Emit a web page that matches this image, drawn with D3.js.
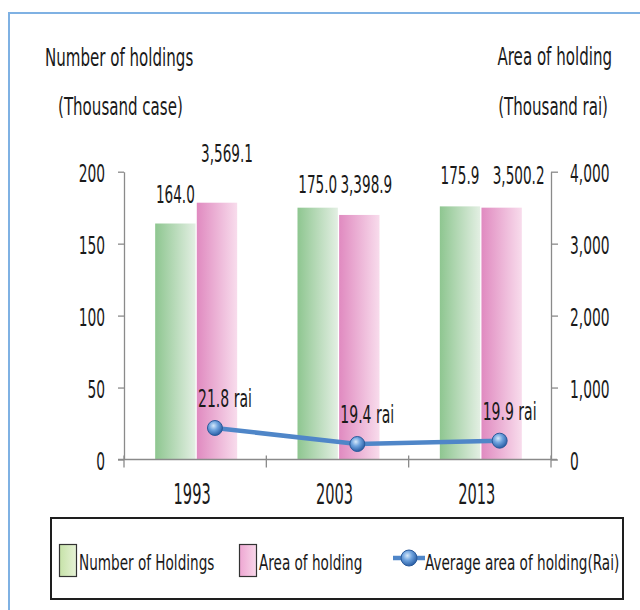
<!DOCTYPE html>
<html>
<head>
<meta charset="utf-8">
<script src="https://cdn.jsdelivr.net/npm/d3@7/dist/d3.min.js"></script>
<style>
  html, body { margin: 0; padding: 0; background: #fff; }
  text { font-family: 'DejaVu Sans Condensed', 'DejaVu Sans', sans-serif; fill: #1a1a1a; }
</style>
</head>
<body>
<svg id="chart" width="640" height="610"></svg>
<script>
// ---- data ----
const categories = ["1993", "2003", "2013"];
const holdings = [164.0, 175.0, 175.9];          // thousand cases (left axis)
const areaHolding = [3569.1, 3398.9, 3500.2];     // thousand rai (right axis)
const avgArea = [21.8, 19.4, 19.9];               // rai (line)
const leftTicks = [0, 50, 100, 150, 200];
const rightTicks = [0, 1000, 2000, 3000, 4000];
const leftTitle = ["Number of holdings", "(Thousand case)"];
const rightTitle = ["Area of holding", "(Thousand rai)"];
const legendLabels = ["Number of Holdings", "Area of holding", "Average area of holding(Rai)"];

// ---- layout ----
const W = 640, H = 610;
const plot = { left: 124, right: 551, top: 171.7, bottom: 459.5 };
const labelNudge = {
  holdings: [[0, -21], [0, -15], [0, -22]],
  area: [[10, -41], [7, -22], [17, -24]]
};

const svg = d3.select("#chart");
const defs = svg.append("defs");

function grad(id, c1, c2) {
  const g = defs.append("linearGradient").attr("id", id)
    .attr("x1", "0%").attr("x2", "100%").attr("y1", "0%").attr("y2", "0%");
  g.append("stop").attr("offset", "0%").attr("stop-color", c1);
  g.append("stop").attr("offset", "100%").attr("stop-color", c2);
}
grad("gGreen", "#8ec690", "#e3efe3");
grad("gPink", "#e08ac0", "#f8dcec");
grad("gGreenLeg", "#c6e2a8", "#e6f2d6");
grad("gPinkLeg", "#eea6d2", "#f8d8ea");
const rg = defs.append("radialGradient").attr("id", "gBall")
  .attr("cx", "40%").attr("cy", "35%").attr("r", "65%");
rg.append("stop").attr("offset", "0%").attr("stop-color", "#d6e8fa");
rg.append("stop").attr("offset", "45%").attr("stop-color", "#6fa3de");
rg.append("stop").attr("offset", "100%").attr("stop-color", "#2a5fa6");

function txt(sel, x, y, s, size, sx, anchor) {
  return sel.append("text")
    .attr("transform", `translate(${x},${y}) scale(${sx},1)`)
    .attr("text-anchor", anchor || "start")
    .style("font-size", size + "px")
    .text(s);
}

// frame
svg.append("path")
  .attr("d", `M9,${H + 5} L9,13 L${W + 5},13`)
  .attr("fill", "none").attr("stroke", "#7fb1e3").attr("stroke-width", 2);

// ---- scales ----
const x = d3.scaleBand().domain(categories).range([plot.left, plot.right]).padding(0);
const yL = d3.scaleLinear().domain([0, 200]).range([plot.bottom, plot.top]);
const yR = d3.scaleLinear().domain([0, 4000]).range([plot.bottom, plot.top]);
const yAvg = d3.scaleLinear().domain([0, 40]).range([573.4, 306.6]);
const inner = d3.scaleBand().domain(["h", "a"]).range([-40, 42]).paddingInner(0.03);
const cx = c => x(c) + x.bandwidth() / 2;

// ---- bars ----
const gBars = svg.append("g");
gBars.selectAll("rect.h").data(categories).join("rect").attr("class", "h")
  .attr("x", (c) => cx(c) + inner("h"))
  .attr("width", inner.bandwidth())
  .attr("y", (c, i) => yL(holdings[i]))
  .attr("height", (c, i) => yL(0) - yL(holdings[i]))
  .attr("fill", "url(#gGreen)");
gBars.selectAll("rect.a").data(categories).join("rect").attr("class", "a")
  .attr("x", (c) => cx(c) + inner("a"))
  .attr("width", inner.bandwidth())
  .attr("y", (c, i) => yR(areaHolding[i]))
  .attr("height", (c, i) => yR(0) - yR(areaHolding[i]))
  .attr("fill", "url(#gPink)");

// ---- axes ----
const axisColor = "#8a8a8a";
const axL = svg.append("g").attr("transform", `translate(${plot.left},0)`)
  .call(d3.axisLeft(yL).tickValues(leftTicks).tickSize(6).tickSizeOuter(0).tickFormat(d3.format("d")));
const axR = svg.append("g").attr("transform", `translate(${plot.right},0)`)
  .call(d3.axisRight(yR).tickValues(rightTicks).tickSize(7).tickSizeOuter(0).tickFormat(d3.format(",")));
[axL, axR].forEach(a => {
  a.attr("font-family", null).attr("font-size", null);
  a.selectAll("path, line").attr("stroke", axisColor).attr("stroke-width", 1.3);
  a.selectAll("text").style("font-size", "24px").attr("fill", "#1a1a1a").attr("dy", "0.42em");
});
axL.selectAll("text").attr("x", null).attr("transform", "translate(-19,0) scale(0.64,1)");
axR.selectAll("text").attr("x", null).attr("transform", "translate(19,0) scale(0.64,1)");

// category axis
const gX = svg.append("g");
gX.append("line").attr("x1", plot.left - 6).attr("x2", plot.right + 6)
  .attr("y1", plot.bottom).attr("y2", plot.bottom)
  .attr("stroke", axisColor).attr("stroke-width", 1.3);
const bounds = categories.map(c => x(c)).concat([x(categories[categories.length - 1]) + x.bandwidth()]);
gX.selectAll("line.t").data(bounds).join("line").attr("class", "t")
  .attr("x1", d => d).attr("x2", d => d)
  .attr("y1", plot.bottom - 4).attr("y2", plot.bottom + 8)
  .attr("stroke", axisColor).attr("stroke-width", 1.3);
categories.forEach(c => txt(gX, cx(c) - 3, 504, c, 28, 0.58, "middle"));

// ---- line ----
const px = c => cx(c) + inner("a") + inner.bandwidth() / 2 - 2;
const line = d3.line().x((d, i) => px(categories[i])).y(d => yAvg(d));
svg.append("path").datum(avgArea).attr("d", line)
  .attr("fill", "none").attr("stroke", "#4f86c8").attr("stroke-width", 4.5);
svg.selectAll("circle.m").data(avgArea).join("circle").attr("class", "m")
  .attr("cx", (d, i) => px(categories[i])).attr("cy", d => yAvg(d)).attr("r", 7.5)
  .attr("fill", "url(#gBall)").attr("stroke", "#2b5a9a").attr("stroke-width", 1);

// ---- labels ----
const gLab = svg.append("g");
categories.forEach((c, i) => {
  const hx = cx(c) + inner("h") + inner.bandwidth() / 2;
  const ax = cx(c) + inner("a") + inner.bandwidth() / 2;
  txt(gLab, hx + labelNudge.holdings[i][0], yL(holdings[i]) + labelNudge.holdings[i][1],
      d3.format(".1f")(holdings[i]), 24, 0.63, "middle");
  txt(gLab, ax + labelNudge.area[i][0], yR(areaHolding[i]) + labelNudge.area[i][1],
      d3.format(",.1f")(areaHolding[i]), 24, 0.63, "middle");
  txt(gLab, px(c) - 17, yAvg(avgArea[i]) - 21, d3.format(".1f")(avgArea[i]) + " rai", 24, 0.65, "start");
});

// ---- titles ----
txt(svg, 45, 66, leftTitle[0], 25, 0.67, "start");
txt(svg, 58, 115, leftTitle[1], 25, 0.67, "start");
txt(svg, 612, 65, rightTitle[0], 25, 0.67, "end");
txt(svg, 608, 115, rightTitle[1], 25, 0.67, "end");

// ---- legend ----
const gLeg = svg.append("g");
gLeg.append("rect").attr("x", 51).attr("y", 518).attr("width", 572).attr("height", 81)
  .attr("fill", "#fff").attr("stroke", "#1e1e1e").attr("stroke-width", 2);
gLeg.append("rect").attr("x", 59.5).attr("y", 544.5).attr("width", 17).attr("height", 32)
  .attr("fill", "url(#gGreenLeg)").attr("stroke", "#333").attr("stroke-width", 1.2);
txt(gLeg, 79, 570, legendLabels[0], 21, 0.72, "start");
gLeg.append("rect").attr("x", 239.5).attr("y", 544.5).attr("width", 17).attr("height", 32)
  .attr("fill", "url(#gPinkLeg)").attr("stroke", "#333").attr("stroke-width", 1.2);
txt(gLeg, 259, 570, legendLabels[1], 21, 0.72, "start");
gLeg.append("line").attr("x1", 393).attr("x2", 425).attr("y1", 558).attr("y2", 558)
  .attr("stroke", "#4f86c8").attr("stroke-width", 4.5);
gLeg.append("circle").attr("cx", 409).attr("cy", 558).attr("r", 8)
  .attr("fill", "url(#gBall)").attr("stroke", "#2b5a9a").attr("stroke-width", 1);
txt(gLeg, 425, 570, legendLabels[2], 21, 0.72, "start");
</script>
</body>
</html>
